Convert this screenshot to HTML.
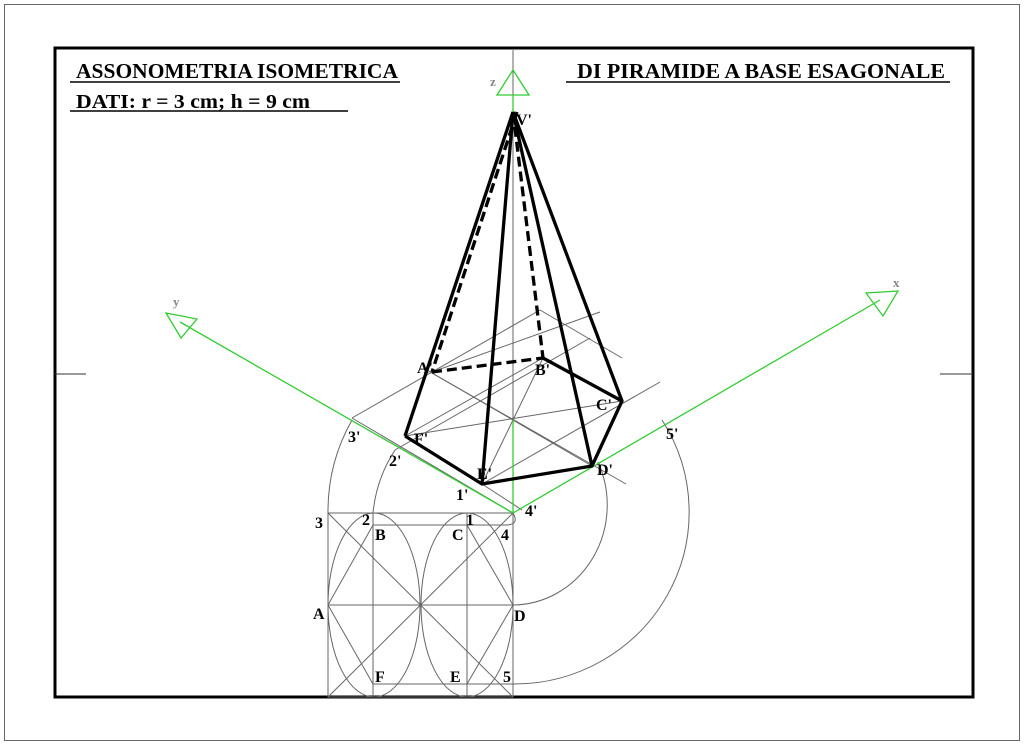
<!DOCTYPE html>
<html><head><style>
body{margin:0;background:#fff;}
svg{display:block;}
text{font-family:"Liberation Serif",serif;font-weight:bold;fill:#000;}
</style></head><body>
<svg width="1024" height="745" viewBox="0 0 1024 745">
<rect x="0" y="0" width="1024" height="745" fill="#fff"/>
<rect x="4.5" y="4.5" width="1015" height="736" fill="none" stroke="#666" stroke-width="1"/>
<rect x="55" y="48" width="918" height="649" fill="none" stroke="#000" stroke-width="3"/>
<g stroke="#333" stroke-width="1">
<line x1="55" y1="374" x2="86" y2="374"/><line x1="940" y1="374" x2="973" y2="374"/>
</g>
<text x="76" y="78" font-size="21" textLength="322" lengthAdjust="spacingAndGlyphs">ASSONOMETRIA ISOMETRICA</text>
<line x1="70" y1="82" x2="400" y2="82" stroke="#000" stroke-width="1.5"/>
<text x="577" y="78" font-size="21" textLength="368" lengthAdjust="spacingAndGlyphs">DI PIRAMIDE A BASE ESAGONALE</text>
<line x1="566" y1="82" x2="950" y2="82" stroke="#000" stroke-width="1.5"/>
<text x="76" y="108" font-size="20" textLength="234" lengthAdjust="spacingAndGlyphs">DATI: r = 3 cm; h = 9 cm</text>
<line x1="70" y1="111" x2="348" y2="111" stroke="#000" stroke-width="1.5"/>

<g stroke="#666" stroke-width="1" fill="none">
<line x1="513" y1="50" x2="513" y2="697"/>
<rect x="328" y="513" width="185" height="184"/>
<line x1="373" y1="525" x2="467" y2="525"/>
<line x1="373" y1="684" x2="513" y2="684"/>
<line x1="373" y1="513" x2="373" y2="697"/>
<line x1="467" y1="513" x2="467" y2="697"/>
<line x1="328" y1="605" x2="513" y2="605"/>
<line x1="328" y1="513" x2="513" y2="697"/>
<line x1="513" y1="513" x2="328" y2="697"/>
<line x1="373" y1="525" x2="328" y2="605"/><line x1="328" y1="605" x2="373" y2="684"/>
<line x1="467" y1="525" x2="513" y2="605"/><line x1="513" y1="605" x2="467" y2="684"/>
<ellipse cx="374" cy="605" rx="46" ry="92"/>
<ellipse cx="467" cy="605" rx="46" ry="92"/>
<path d="M328,513 A185,185 0 0 1 352,420"/>
<path d="M373,513 A140,140 0 0 1 395,450"/>
<path d="M513,684 A175,172 0 0 0 662,420"/>
<path d="M513,605 A95,100 0 0 0 598,462"/>
<path d="M513,513 Q520,525 505,525 L467,525"/>
<line x1="352" y1="418" x2="540" y2="310"/>
<line x1="352" y1="418" x2="513" y2="513"/>
<line x1="395" y1="450" x2="590" y2="338"/>
<line x1="430" y1="372" x2="626" y2="484"/>
<line x1="405" y1="436" x2="622" y2="401"/>
<line x1="482" y1="484" x2="660" y2="382"/>
<line x1="427" y1="370" x2="592" y2="466"/>
<line x1="540" y1="310" x2="622" y2="358"/>
<line x1="543" y1="358" x2="482" y2="484"/>
<line x1="432" y1="372" x2="600" y2="312"/>
<line x1="405" y1="436" x2="543" y2="358"/>
<line x1="482" y1="484" x2="522" y2="510"/>
</g>
<g stroke="#3c3" stroke-width="1.3" fill="none">
<line x1="513" y1="513" x2="180" y2="322"/>
<line x1="513" y1="513" x2="880" y2="300"/>
<line x1="513" y1="513" x2="513" y2="420"/>
<line x1="513" y1="95" x2="513" y2="112"/>
<polygon points="513,70 497,95 529,95"/>
<polygon points="166,313 197,319 181,338"/>
<polygon points="898,291 866,293 883,316"/>
</g>
<text x="490" y="86" font-size="13" style="fill:#888">z</text>
<text x="173" y="306" font-size="13" style="fill:#888">y</text>
<text x="893" y="287" font-size="13" style="fill:#888">x</text>
<g stroke="#000" stroke-width="3.3" fill="none" stroke-linejoin="round">
<line x1="513" y1="112" x2="405" y2="436"/>
<line x1="513" y1="112" x2="482" y2="484"/>
<line x1="513" y1="112" x2="592" y2="466"/>
<line x1="513" y1="112" x2="622" y2="401"/>
<polyline points="543,358 622,401 592,466 482,484 405,436"/>
<g stroke-dasharray="10,5">
<line x1="517" y1="112" x2="432" y2="372"/>
<line x1="513" y1="112" x2="543" y2="358"/>
<line x1="432" y1="372" x2="543" y2="358"/>
</g>
</g>
<g font-size="16">
<text x="516" y="125">V'</text>
<text x="417" y="373">A'</text>
<text x="535" y="375">B'</text>
<text x="596" y="410">C'</text>
<text x="597" y="475">D'</text>
<text x="477" y="479">E'</text>
<text x="414" y="444">F'</text>
<text x="348" y="442">3'</text>
<text x="389" y="466">2'</text>
<text x="456" y="500">1'</text>
<text x="525" y="516">4'</text>
<text x="666" y="439">5'</text>
<text x="315" y="528">3</text>
<text x="362" y="525">2</text>
<text x="466" y="525">1</text>
<text x="375" y="540">B</text>
<text x="452" y="540">C</text>
<text x="501" y="540">4</text>
<text x="313" y="619">A</text>
<text x="514" y="621">D</text>
<text x="375" y="682">F</text>
<text x="450" y="682">E</text>
<text x="503" y="682">5</text>
</g>
</svg>
</body></html>
